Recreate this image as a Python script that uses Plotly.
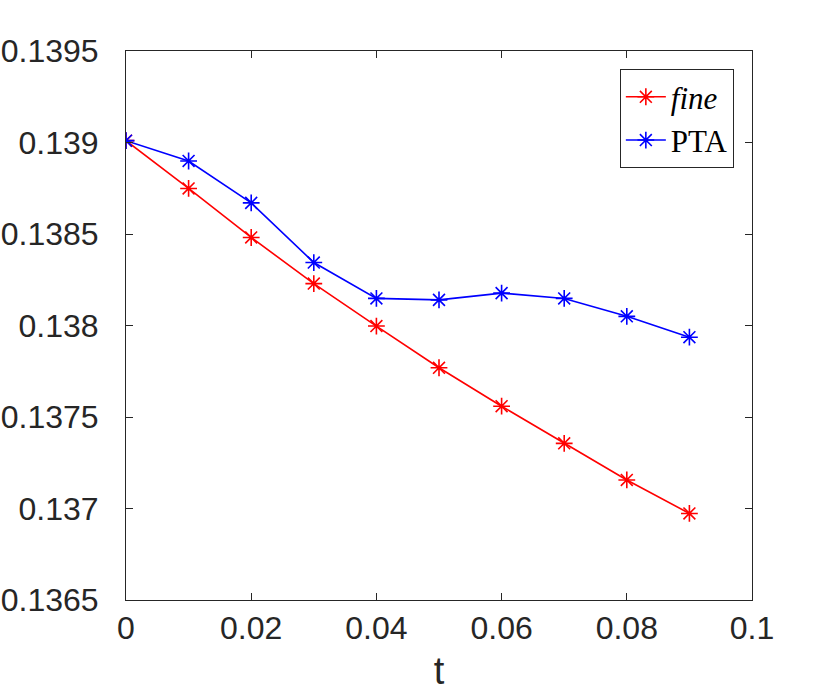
import plotly.graph_objects as go

# datos
t = [0, 0.01, 0.02, 0.03, 0.04, 0.05, 0.06, 0.07, 0.08, 0.09]
fine = [0.13901, 0.138749, 0.138481, 0.138229, 0.137997, 0.137769,
        0.137559, 0.137356, 0.137156, 0.136973]
pta = [0.13901, 0.138899, 0.138670, 0.138344, 0.138148, 0.138140,
       0.138177, 0.138148, 0.138050, 0.137936]

xticks = [0, 0.02, 0.04, 0.06, 0.08, 0.1]
xlabels = ["0", "0.02", "0.04", "0.06", "0.08", "0.1"]
yticks = [0.1365, 0.137, 0.1375, 0.138, 0.1385, 0.139, 0.1395]
ylabels = ["0.1365", "0.137", "0.1375", "0.138", "0.1385", "0.139", "0.1395"]

ejes = "#262626"

fig = go.Figure()

fig.add_trace(go.Scatter(
    x=t, y=fine, mode="lines+markers", name="<i>fine</i>",
    line=dict(color="red", width=1.6),
    marker=dict(symbol="asterisk-open", size=14, line=dict(color="red", width=1.6))
))

fig.add_trace(go.Scatter(
    x=t, y=pta, mode="lines+markers", name="PTA",
    line=dict(color="blue", width=1.6),
    marker=dict(symbol="asterisk-open", size=14, line=dict(color="blue", width=1.6))
))

fig.update_layout(
    width=830, height=692,
    margin=dict(l=126, r=78, t=51, b=92),
    paper_bgcolor="white", plot_bgcolor="white",
    font=dict(family="Liberation Sans, Arial, sans-serif", size=32, color=ejes),
    showlegend=True,
    legend=dict(
        x=0.971, y=0.967, xanchor="right", yanchor="top",
        bgcolor="white", bordercolor=ejes, borderwidth=1,
        font=dict(family="Liberation Serif, Times New Roman, serif", size=31, color="black"),
        tracegroupgap=0, itemwidth=40,
    ),
)

fig.update_xaxes(
    range=[0, 0.1], tickvals=xticks, ticktext=xlabels,
    showgrid=False, zeroline=False, automargin=False,
    showline=True, linecolor=ejes, linewidth=1, mirror="ticks",
    ticks="inside", ticklen=7, tickcolor=ejes,
    title=dict(text="t", standoff=22),
)

fig.update_yaxes(
    range=[0.1365, 0.1395], tickvals=yticks, ticktext=ylabels,
    showgrid=False, zeroline=False, automargin=False,
    showline=True, linecolor=ejes, linewidth=1, mirror="ticks",
    ticks="inside", ticklen=7, tickcolor=ejes,
    ticklabelstandoff=20,
)

# quitamos el margen del body para que la figura empiece en (0,0)
fig.write_html("out.html", config={"displayModeBar": False},
               post_script="document.body.style.margin='0';")
